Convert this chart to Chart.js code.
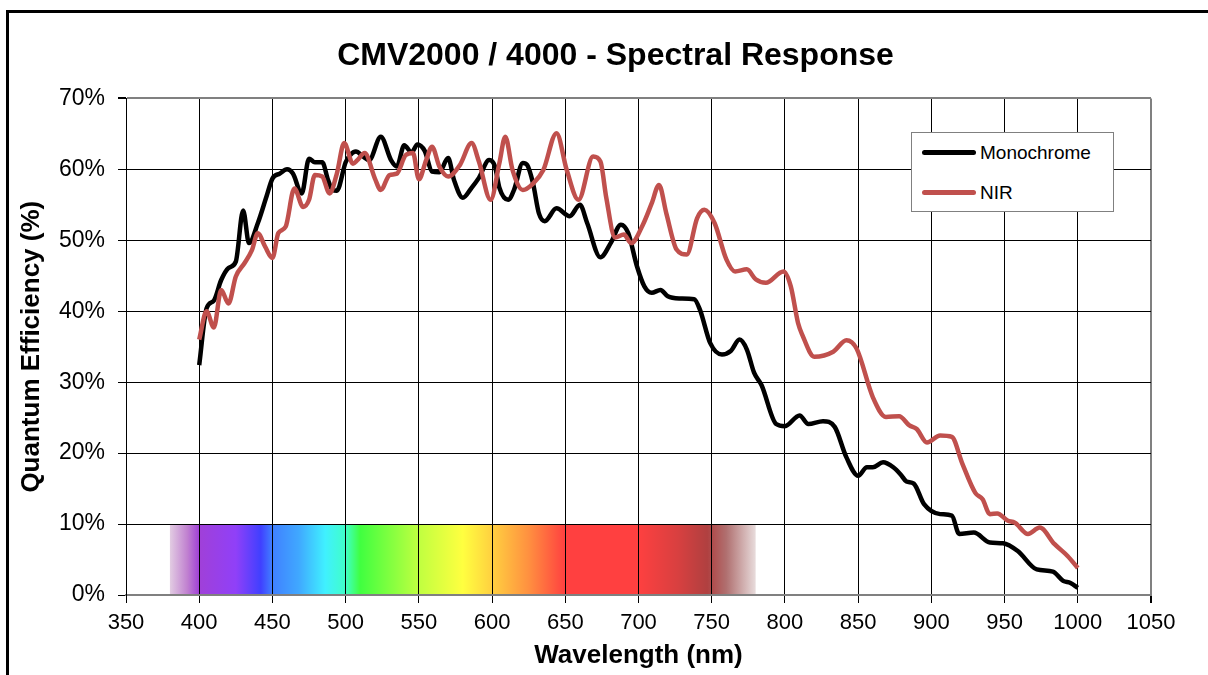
<!DOCTYPE html>
<html>
<head>
<meta charset="utf-8">
<script src="https://cdn.jsdelivr.net/npm/chart.js@4.4.0/dist/chart.umd.min.js"></script>
<style>
  body { margin: 0; background: #fff; }
  #wrap { position: relative; width: 1208px; height: 675px; overflow: hidden; }
  #frame { position: absolute; left: 6px; top: 10px; width: 1300px; height: 800px;
           border-left: 3px solid #000; border-top: 3px solid #000; }
  #legend { position: absolute; left: 911px; top: 132px; width: 201px; height: 78px;
            border: 1px solid #808080; background: #fff;
            font: 19px "Liberation Sans", Arial, sans-serif; color: #000; }
  .row { position: absolute; left: 10px; height: 24px; line-height: 24px; }
  .row i { display: inline-block; width: 54px; height: 5px; border-radius: 3px;
           vertical-align: middle; margin-right: 4px; margin-top: -3px; }
</style>
</head>
<body>
<div id="wrap">
  <canvas id="chart" width="1208" height="675"></canvas>
  <div id="frame"></div>
  <div id="legend">
    <div class="row" style="top:8px"><i style="background:#000"></i>Monochrome</div>
    <div class="row" style="top:48px"><i style="background:#C0504D"></i>NIR</div>
  </div>
</div>
<script>
// Monochrome sensor QE (nm / %)
const MONO_NM = [400, 405, 410, 415, 420, 425, 430, 434, 440, 446, 450, 455, 460, 464, 470, 475, 479, 484, 488, 491,
  494, 500, 503, 507, 512, 516, 524, 531, 535, 540, 545, 549, 554, 559, 564, 570, 574, 580, 586, 591,
  598, 602, 605, 611, 615, 621, 624, 628, 632, 636, 644, 653, 660, 665, 674, 681, 688, 693, 699, 704,
  709, 715, 720, 728, 738, 742, 749, 757, 763, 769, 774, 779, 784, 794, 800, 810, 816, 826, 834, 842,
  850, 856, 860, 867, 874, 879, 883, 888, 895, 906, 914, 919, 929, 940, 949, 959, 972, 983, 990, 995, 1000];
const MONO_QE = [32.4, 40.4, 41.5, 44.4, 46.1, 47.0, 54.2, 49.6, 52.4, 56.2, 58.7, 59.4, 60.0, 59.4, 56.6, 61.5, 61.0, 61.0, 58.5, 57.1,
  57.0, 61.0, 62.0, 62.5, 61.8, 61.3, 64.6, 61.3, 60.4, 63.4, 62.4, 63.5, 62.6, 59.7, 59.6, 61.6, 58.5, 56.0, 57.4, 58.8,
  61.3, 60.4, 57.4, 55.7, 57.1, 60.9, 60.6, 58.0, 53.8, 52.7, 54.5, 53.4, 55.0, 52.4, 47.6, 49.6, 52.2, 51.0, 46.3, 43.5,
  42.6, 43.0, 42.1, 41.8, 41.7, 40.2, 35.5, 33.9, 34.4, 36.0, 34.6, 31.3, 29.6, 24.1, 23.8, 25.3, 24.1, 24.5, 23.7, 19.4,
  16.8, 18.0, 18.0, 18.7, 18.0, 17.0, 16.0, 15.7, 12.8, 11.4, 11.2, 8.6, 8.8, 7.4, 7.3, 6.2, 3.6, 3.3, 2.0, 1.7, 1.0];

// NIR-enhanced sensor QE
const NIR_NM = [400, 405, 410, 415, 420, 425, 431, 436, 440, 445, 450, 454, 459, 465, 471, 475, 479, 484, 489, 494,
  499, 505, 508, 513, 520, 524, 530, 535, 541, 546, 550, 555, 559, 564, 570, 578, 586, 591, 599, 605,
  609, 614, 621, 628, 635, 644, 651, 659, 669, 674, 678, 684, 690, 695, 703, 709, 714, 719, 726, 733,
  740, 745, 752, 760, 766, 774, 780, 787, 799, 804, 809, 812, 820, 833, 842, 849, 860, 869, 878, 885,
  890, 897, 906, 914, 921, 930, 935, 940, 945, 952, 957, 966, 974, 984, 993, 1000];
const NIR_QE = [36.0, 40.0, 37.7, 43.0, 41.1, 44.9, 46.8, 48.6, 51.0, 49.1, 47.5, 51.0, 51.9, 57.3, 54.7, 55.7, 59.2, 59.0, 56.6, 59.4,
  63.7, 60.8, 61.3, 62.3, 58.7, 57.1, 59.2, 59.4, 62.0, 62.3, 58.6, 61.3, 63.2, 60.4, 59.0, 60.6, 63.7, 61.1, 55.7, 60.9,
  64.6, 59.9, 57.1, 58.0, 59.9, 65.1, 59.9, 55.7, 61.8, 61.1, 56.0, 50.4, 50.8, 49.6, 52.2, 55.2, 57.8, 53.8, 48.7, 48.0,
  53.1, 54.3, 52.4, 47.3, 45.6, 45.9, 44.5, 44.0, 45.6, 43.5, 38.3, 36.6, 33.6, 34.3, 35.9, 34.7, 27.9, 25.1, 25.2, 23.9,
  23.4, 21.5, 22.5, 22.3, 18.6, 14.4, 13.5, 11.4, 11.5, 10.5, 10.2, 8.6, 9.5, 7.2, 5.5, 3.8];

// visible spectrum strip (nm stops + colours), 0..10 %
const SPECTRUM_NM = [380, 392, 400, 425, 442, 450, 468, 486, 500, 510, 550, 580, 600, 625, 650, 699, 727, 747, 760, 780];
const SPECTRUM_COLORS = ['#e2cce2', '#c080d0', '#a040d8', '#9040f8', '#4040ff', '#4080ff', '#40a8ff', '#40f0ff', '#40ffc8', '#40ff40',
  '#c0ff40', '#ffff40', '#ffd040', '#ff9040', '#ff4040', '#ff4040', '#d84040', '#b04040', '#b07070', '#e8dcdc'];
const SPECTRUM_TOP = 10;

const FONT = '"Liberation Sans", Arial, sans-serif';

const spectrumPlugin = {
  id: 'spectrum',
  beforeDraw(chart) {
    const { ctx, scales: { x, y } } = chart;
    const x0 = x.getPixelForValue(SPECTRUM_NM[0]);
    const x1 = x.getPixelForValue(SPECTRUM_NM[SPECTRUM_NM.length - 1]);
    const yTop = y.getPixelForValue(SPECTRUM_TOP);
    const yBot = y.getPixelForValue(0);
    const grad = ctx.createLinearGradient(x0, 0, x1, 0);
    SPECTRUM_NM.forEach((nm, i) => {
      grad.addColorStop((x.getPixelForValue(nm) - x0) / (x1 - x0), SPECTRUM_COLORS[i]);
    });
    ctx.save();
    ctx.fillStyle = grad;
    ctx.fillRect(x0, yTop, x1 - x0, yBot - yTop);
    ctx.restore();
  }
};

// centre the title over the whole picture a bit to the right, like the original
const titleShift = {
  id: 'titleShift',
  afterLayout(chart) {
    if (chart.titleBlock) {
      chart.titleBlock.left += 40;
      chart.titleBlock.right += 40;
    }
  }
};

const toPoints = (xs, ys) => xs.map((v, i) => ({ x: v, y: ys[i] }));

new Chart(document.getElementById('chart'), {
  type: 'line',
  data: {
    datasets: [
      {
        label: 'Monochrome',
        data: toPoints(MONO_NM, MONO_QE),
        borderColor: '#000',
        borderWidth: 4.5,
        pointRadius: 0,
        cubicInterpolationMode: 'monotone',
        order: 1
      },
      {
        label: 'NIR',
        data: toPoints(NIR_NM, NIR_QE),
        borderColor: '#C0504D',
        borderWidth: 4.5,
        pointRadius: 0,
        cubicInterpolationMode: 'monotone',
        order: 0
      }
    ]
  },
  options: {
    responsive: false,
    animation: false,
    devicePixelRatio: 1,
    layout: { padding: { left: 0, right: 57, top: 0, bottom: 0 } },
    plugins: {
      legend: { display: false },
      tooltip: { enabled: false },
      title: {
        display: true,
        text: 'CMV2000 / 4000 - Spectral Response',
        color: '#000',
        font: { family: FONT, size: 32, weight: 'bold' },
        padding: { top: 37, bottom: 23 }
      }
    },
    scales: {
      x: {
        type: 'linear',
        min: 350,
        max: 1050,
        afterFit: (s) => { s.height = 80; },
        ticks: {
          stepSize: 50,
          autoSkip: false,
          maxRotation: 0,
          color: '#000',
          padding: 7,
          font: { family: FONT, size: 22 },
          callback: (v) => String(v)
        },
        grid: {
          color: (c) => (c.tick && c.tick.value === 1050 ? '#808080' : '#000'),
          lineWidth: (c) => (c.tick && c.tick.value === 1050 ? 2 : 1),
          tickColor: '#000',
          tickLength: 8
        },
        border: { display: true, color: '#808080', width: 2 },
        title: {
          display: true,
          text: 'Wavelength (nm)',
          color: '#000',
          font: { family: FONT, size: 26, weight: 'bold' },
          padding: { top: 3, bottom: 4 }
        }
      },
      y: {
        min: 0,
        max: 70,
        afterFit: (s) => { s.width = 126; },
        ticks: {
          stepSize: 10,
          color: '#000',
          padding: 13,
          font: { family: FONT, size: 23 },
          callback: (v) => v + '%'
        },
        grid: {
          color: (c) => (c.tick && c.tick.value === 70 ? '#808080' : '#000'),
          lineWidth: (c) => (c.tick && c.tick.value === 70 ? 2 : 1),
          tickColor: '#000',
          tickLength: 8
        },
        border: { display: true, color: '#000', width: 1 },
        title: {
          display: true,
          text: 'Quantum Efficiency (%)',
          color: '#000',
          font: { family: FONT, size: 26, weight: 'bold' },
          padding: { top: 16, bottom: 0 }
        }
      }
    }
  },
  plugins: [spectrumPlugin, titleShift]
});
</script>
</body>
</html>
